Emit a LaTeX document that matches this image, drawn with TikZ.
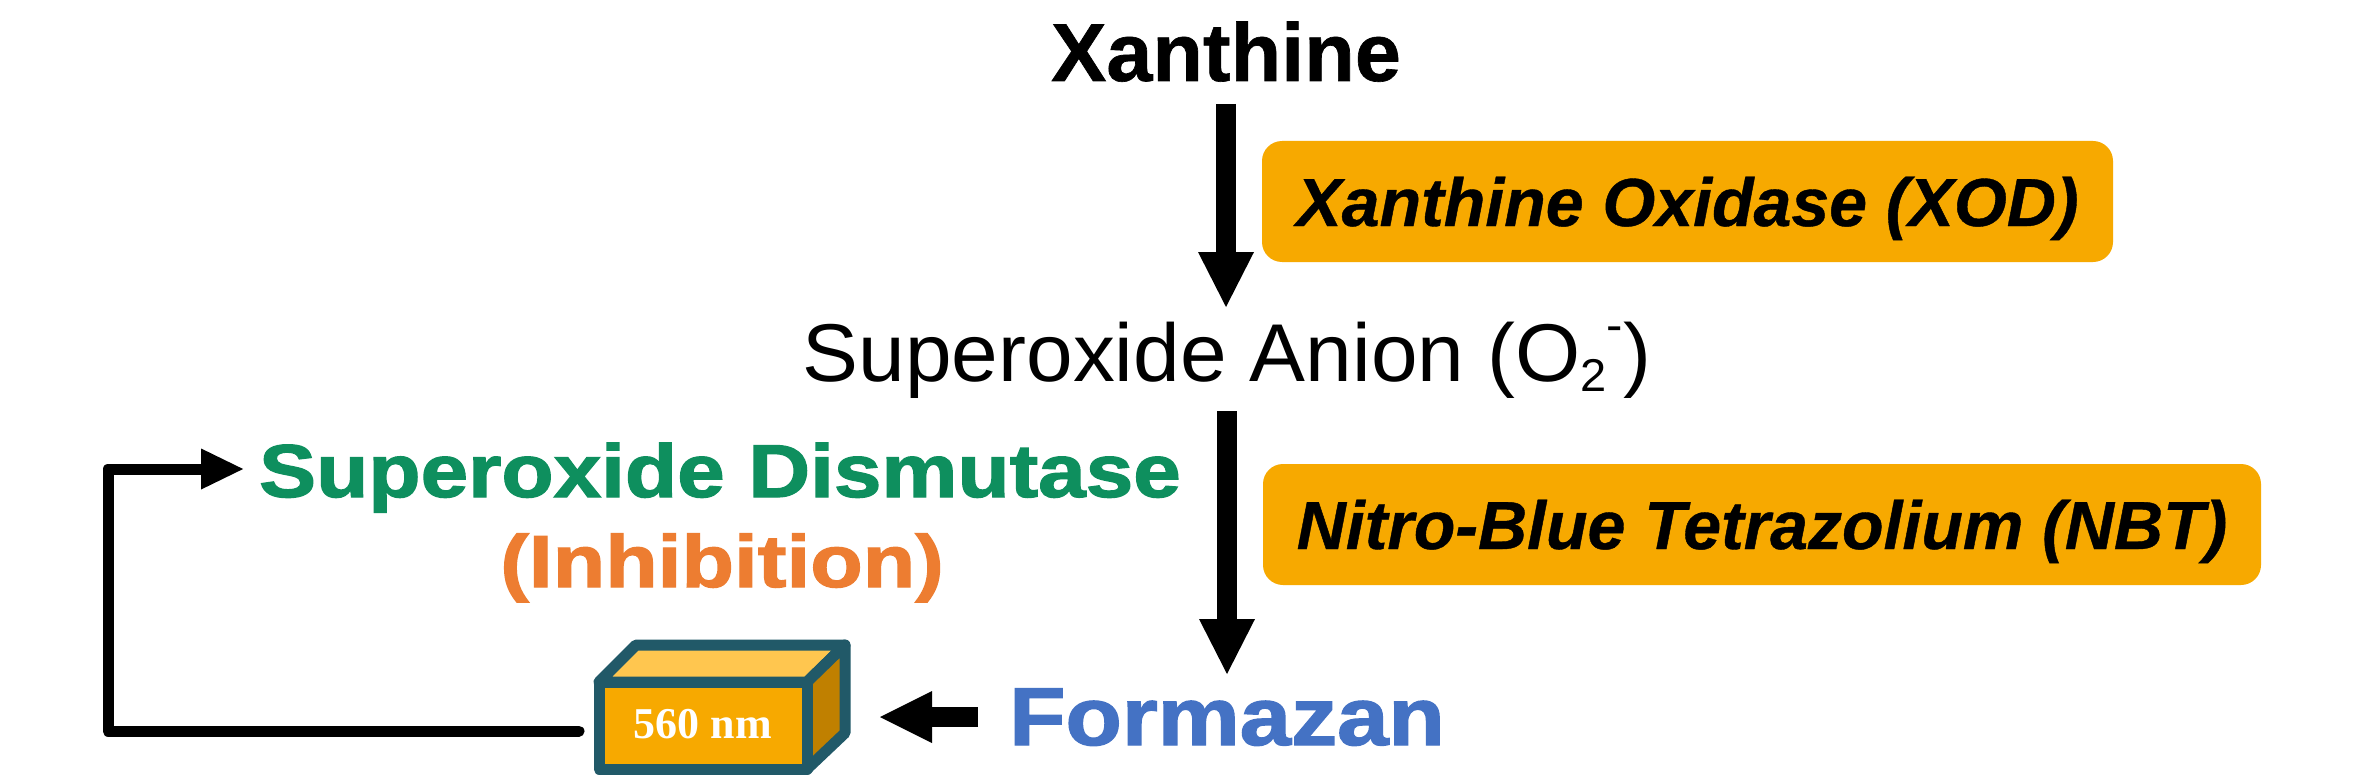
\documentclass[tikz,border=0pt]{standalone}
\usepackage{fontspec}
\usetikzlibrary{arrows.meta}
\setmainfont{Liberation Sans}
\newfontfamily\heavyfont[UprightFont={* Bold},FakeBold=1.6]{Liberation Sans}
\newfontfamily\midfont[UprightFont={* Bold},FakeBold=0.8]{Liberation Sans}
\newfontfamily\enzfont[UprightFont={* Bold Italic},FakeBold=0.6]{Liberation Sans}
\newfontfamily\numfont{Liberation Serif}
\definecolor{boxorange}{HTML}{F7A900}
\definecolor{cubeedge}{HTML}{215968}
\definecolor{cubetop}{HTML}{FFC64F}
\definecolor{cubeside}{HTML}{C08000}
\definecolor{sodgreen}{HTML}{0E8F5E}
\definecolor{inhorange}{HTML}{ED7D31}
\definecolor{formblue}{HTML}{4472C4}
\newcommand{\fsz}[1]{\fontsize{#1}{#1}\selectfont}
\tikzset{
  word/.style={inner sep=0pt,outer sep=0pt,anchor=south,text depth=0pt},
  enzyme/.style={inner sep=0pt,outer sep=0pt,fill=boxorange,rounded corners=20pt,
     minimum height=121pt,text height=49pt,text depth=0pt,font=\fsz{68}\enzfont},
  bigarrow/.style={line width=20pt,-{Triangle[length=55pt,width=56pt,line width=0pt]}},
  smallarrow/.style={line width=20pt,-{Triangle[length=52pt,width=52pt,line width=0pt]}},
  looparrow/.style={line width=11pt,line join=round,line cap=round,-{Triangle[length=42pt,width=41pt,line width=0pt]}},
  cubeface/.style={draw=cubeedge,line width=11pt,line join=round}
}
\begin{document}
\begin{tikzpicture}[x=1pt,y=-1pt]
\useasboundingbox (0,0) rectangle (2364,781);
\fill[white] (0,0) rectangle (2364,781);

\node[word,text height=59pt,font=\fsz{82}\midfont] (xan) at (1226,81) {\scalebox{1.01}[1]{Xanthine}};
\node[word,text height=59pt,font=\fsz{82}] (sup) at (1227,381)
  {\scalebox{1.022}[1]{Superoxide Anion (O\raisebox{-10pt}{\fsz{46}2}\raisebox{40pt}{\fsz{48}-})}};
\node[word,text height=59pt,font=\fsz{82}\heavyfont,text=formblue] (form) at (1227,745)
  {\scalebox{1.125}[1]{Formazan}};
\node[word,text height=54pt,font=\fsz{75}\heavyfont,text=sodgreen] (sod) at (720,497)
  {\scalebox{1.14}[1]{Superoxide Dismutase}};
\node[word,text height=53pt,font=\fsz{74}\heavyfont,text=inhorange] (inh) at (722,587)
  {\scalebox{1.16}[1]{(Inhibition)}};

\node[enzyme,minimum width=851pt] (xod) at (1687.5,201.5) {Xanthine Oxidase (XOD)};
\node[enzyme,minimum width=998pt] (nbt) at (1762,524.5) {Nitro-Blue Tetrazolium (NBT)};

\filldraw[cubeface,fill=cubetop] (599,682) -- (636,645) -- (845,645) -- (807,682) -- cycle;
\filldraw[cubeface,fill=cubeside] (807,682) -- (845,645) -- (845,733) -- (807,769) -- cycle;
\node[draw=cubeedge,fill=boxorange,line width=11pt,line join=round,minimum width=208pt,minimum height=87pt,
      inner sep=0pt,text=white,font=\fsz{44}\numfont\bfseries] (cube) at (703,725.5)
  {\raisebox{2.5pt}{560 nm}};

\coordinate (loop) at (108,469);

\draw[bigarrow,shorten <=23pt,shorten >=15pt] (xan.south) -- (xan.south |- sup.north);
\draw[bigarrow,shorten <=30pt,shorten >=12pt] (sup.south) -- (sup.south |- form.north);
\draw[smallarrow,shorten <=31pt,shorten >=67.5pt] ([yshift=-1.5pt]form.west) -- ([yshift=-1.5pt]form.west -| cube.east);
\draw[looparrow,shorten <=14.5pt,shorten >=16pt] ([yshift=-5.5pt]cube.west) -| (loop) -- (loop -| sod.west);

\end{tikzpicture}
\end{document}
